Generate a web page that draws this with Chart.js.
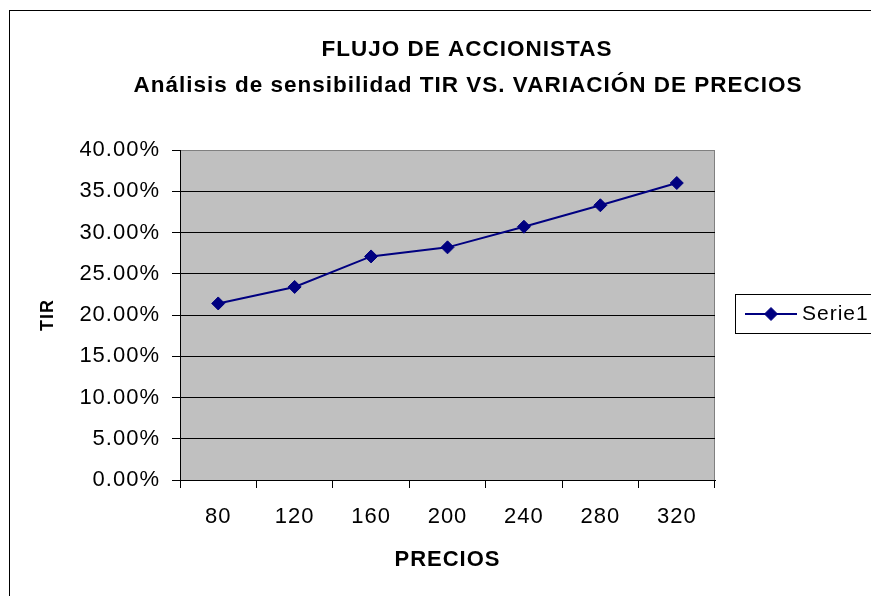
<!DOCTYPE html>
<html>
<head>
<meta charset="utf-8">
<title>Flujo de accionistas</title>
<script src="https://cdn.jsdelivr.net/npm/chart.js@4.4.1/dist/chart.umd.min.js"></script>
<style>
  html, body { margin: 0; padding: 0; background: #fff; }
  canvas { display: block; }
</style>
</head>
<body>
<canvas id="grafico" width="871" height="596"></canvas>
<script>
// precios evaluados y TIR resultante (en %)
const precios = ['80', '120', '160', '200', '240', '280', '320'];
const tir = [21.4, 23.4, 27.1, 28.2, 30.7, 33.3, 36.0];
const nombreSerie = 'Serie1';
const titulo = ['FLUJO DE ACCIONISTAS', 'Análisis de sensibilidad TIR VS. VARIACIÓN DE PRECIOS'];
const tirMin = 0, tirMax = 40, tirPaso = 5;

const AZUL = '#000080';
const FUENTE = '"Liberation Sans", Arial, sans-serif';
const ESPACIO = '1px';

// letras un poco separadas, como las dibuja Excel
const espaciado = {
    id: 'espaciado',
    beforeLayout(chart) { chart.ctx.letterSpacing = ESPACIO; },
    beforeDraw(chart) { chart.ctx.letterSpacing = ESPACIO; }
};

// fondo gris del area de trazado y marco del grafico
const marco = {
    id: 'marco',
    beforeDraw(chart) {
        const { ctx, chartArea: a } = chart;
        ctx.save();
        ctx.fillStyle = '#c0c0c0';
        ctx.fillRect(a.left, a.top, a.right - a.left, a.bottom - a.top);
        ctx.strokeStyle = '#000';
        ctx.lineWidth = 1;
        ctx.strokeRect(9.5, 10.5, 1000, 1000);
        ctx.restore();
    }
};

// titulo de dos lineas y leyenda con recuadro
const textos = {
    id: 'textos',
    afterDraw(chart) {
        const ctx = chart.ctx;
        const ds = chart.data.datasets[0];
        ctx.save();
        ctx.letterSpacing = ESPACIO;
        ctx.fillStyle = '#000';
        ctx.textAlign = 'center';
        ctx.textBaseline = 'middle';
        ctx.font = 'bold 22.5px ' + FUENTE;
        ctx.fillText(titulo[0], 467, 50);
        ctx.fillText(titulo[1], 468, 86);

        // leyenda
        ctx.strokeStyle = '#000';
        ctx.lineWidth = 1;
        ctx.strokeRect(735.5, 294.5, 200, 39);
        ctx.strokeStyle = ds.borderColor;
        ctx.lineWidth = ds.borderWidth;
        ctx.beginPath();
        ctx.moveTo(745, 314);
        ctx.lineTo(797, 314);
        ctx.stroke();
        ctx.fillStyle = ds.pointBackgroundColor;
        ctx.strokeStyle = ds.pointBorderColor;
        ctx.lineWidth = 1;
        Chart.helpers.drawPoint(ctx, { pointStyle: ds.pointStyle, radius: ds.pointRadius, rotation: 0, borderWidth: 1 }, 771, 314);
        ctx.fillStyle = '#000';
        ctx.textAlign = 'left';
        ctx.font = '21px ' + FUENTE;
        ctx.fillText(ds.label, 802, 314);
        ctx.restore();
    }
};

new Chart(document.getElementById('grafico'), {
    type: 'line',
    data: {
        labels: precios,
        datasets: [{
            label: nombreSerie,
            data: tir,
            borderColor: AZUL,
            borderWidth: 2,
            tension: 0,
            pointStyle: 'rectRot',
            pointRadius: 6.5,
            pointBackgroundColor: AZUL,
            pointBorderColor: AZUL,
            pointBorderWidth: 1
        }]
    },
    options: {
        responsive: false,
        animation: false,
        layout: { padding: { top: 150, right: 156, bottom: 0, left: 0 } },
        plugins: {
            legend: { display: false },
            title: { display: false },
            tooltip: { enabled: false }
        },
        scales: {
            x: {
                offset: true,
                grid: {
                    offset: true,
                    color: c => c.type === 'tick' ? 'rgba(0,0,0,0)' : '#808080',
                    tickColor: '#000',
                    tickLength: 8
                },
                border: { color: '#000', width: 1 },
                ticks: {
                    color: '#000',
                    font: { size: 22, family: FUENTE },
                    padding: 16,
                    maxRotation: 0,
                    autoSkip: false
                },
                title: {
                    display: true,
                    text: 'PRECIOS',
                    color: '#000',
                    font: { size: 22, weight: 'bold', family: FUENTE },
                    padding: { top: 0, bottom: 23 }
                },
                afterFit(s) { s.height = 116; }
            },
            y: {
                min: tirMin,
                max: tirMax,
                grid: {
                    color: c => (c.tick && c.tick.value === tirMax) ? '#808080' : '#000',
                    tickColor: '#000',
                    tickLength: 8
                },
                border: { color: '#000', width: 1 },
                ticks: {
                    stepSize: tirPaso,
                    color: '#000',
                    font: { size: 22, family: FUENTE },
                    padding: 12,
                    callback: v => v.toFixed(2) + '%'
                },
                title: {
                    display: true,
                    text: 'TIR',
                    color: '#000',
                    font: { size: 18, weight: 'bold', family: FUENTE },
                    padding: { top: 37, bottom: 0 }
                },
                afterFit(s) { s.width = 180; }
            }
        }
    },
    plugins: [espaciado, marco, textos]
});
</script>
</body>
</html>
